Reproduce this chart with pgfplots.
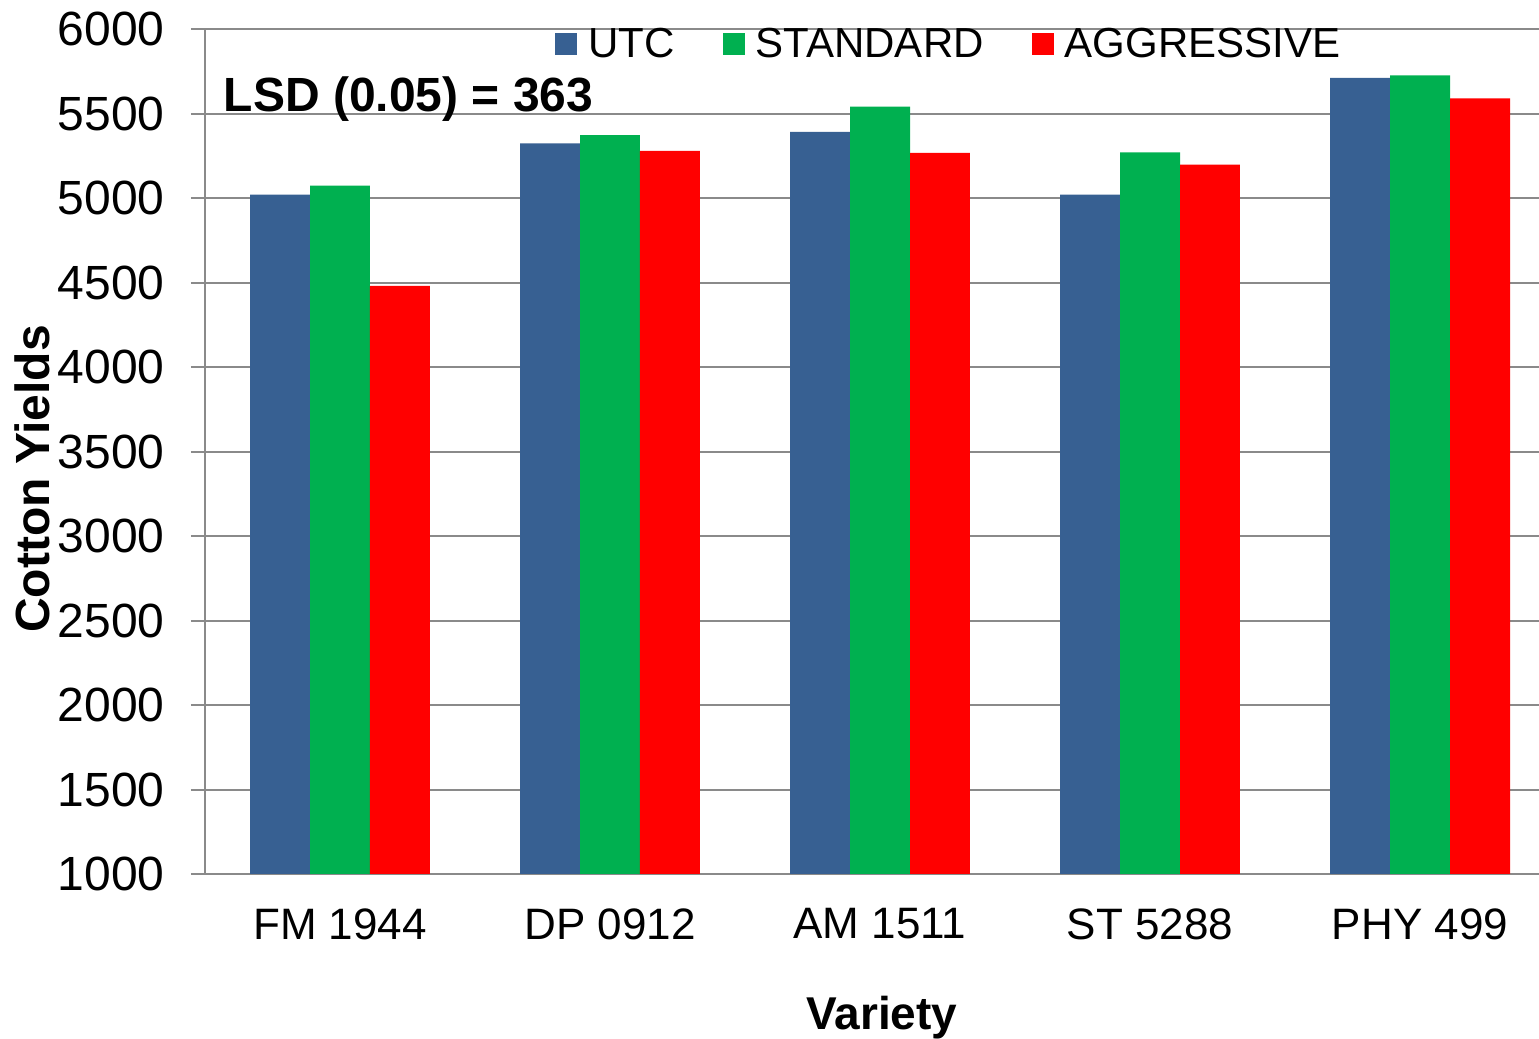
\documentclass[border=0pt]{standalone}
\usepackage{pgfplots}
\pgfplotsset{compat=1.18}
\usepackage{fontspec}
\setmainfont{Liberation Sans}

\definecolor{utc}{RGB}{55,96,146}
\definecolor{std}{RGB}{0,176,80}
\definecolor{agg}{RGB}{255,0,0}
\definecolor{gridc}{RGB}{138,138,138}

\begin{document}
\begin{tikzpicture}
\useasboundingbox (-102.5pt,-82.5pt) rectangle (667pt,437pt);
\begin{axis}[
    at={(0,0)}, anchor=south west,
    scale only axis,
    width=667pt, height=422.5pt,
    ybar=0pt,
    bar width=0.2222,
    xmin=-0.5, xmax=4.4407,
    ymin=1000, ymax=6000,
    ytick distance=500,
    xtick={0,1,2,3,4},
    xticklabels={FM 1944, DP 0912, AM 1511, ST 5288, PHY 499},
    axis x line*=bottom, axis y line*=left,
    axis line style={-, draw=gridc, line width=1pt},
    ymajorgrids,
    grid style={draw=gridc, line width=1pt},
    tick align=outside,
    major tick length=7pt,
    xtick style={draw=none},
    ytick style={draw=gridc, line width=1pt},
    scaled y ticks=false,
    /pgf/number format/assume math mode=true,
    /pgf/number format/1000 sep={},
    yticklabel style={font=\fontsize{24}{28}\selectfont, anchor=east, inner sep=0pt, xshift=-13pt},
    xticklabel style={font=\fontsize{22}{26}\selectfont, anchor=north, inner sep=0pt, yshift=-10pt},
    xlabel={Variety},
    ylabel={Cotton Yields},
    every axis x label/.style={at={(rel axis cs:0.5075,-0.1846)}, anchor=base,
        font=\bfseries\fontsize{23}{27}\selectfont},
    every axis y label/.style={at={(rel axis cs:-0.1162,0.4675)}, rotate=90, anchor=base,
        font=\bfseries\fontsize{24}{28}\selectfont},
    legend columns=-1,
    legend style={at={(rel axis cs:0.2624,0.982)}, anchor=west, draw=none, fill=none,
        font=\fontsize{21}{25}\selectfont, inner sep=0pt,
        nodes={inner sep=0pt},
        /tikz/every odd column/.append style={column sep=5.5pt},
        /tikz/every even column/.append style={column sep=24pt}},
    legend image code/.code={\fill[#1] (0pt,-5.5pt) rectangle (11pt,5.5pt);},
]
\addplot[fill=utc, draw=none, bar shift=-0.2222] coordinates {
    (0,5020) (1,5323) (2,5391) (3,5020) (4,5711)
};
\addplot[fill=std, draw=none, bar shift=0] coordinates {
    (0,5073) (1,5372) (2,5540) (3,5270) (4,5725)
};
\addplot[fill=agg, draw=none, bar shift=0.2222] coordinates {
    (0,4480) (1,5279) (2,5267) (3,5198) (4,5589)
};
\legend{UTC, STANDARD, AGGRESSIVE}
\node[anchor=base west, inner sep=0pt, font=\bfseries\fontsize{24}{28}\selectfont]
    at (rel axis cs:0.01387,0.9018) {LSD (0.05) = 363};
\end{axis}
\end{tikzpicture}
\end{document}
